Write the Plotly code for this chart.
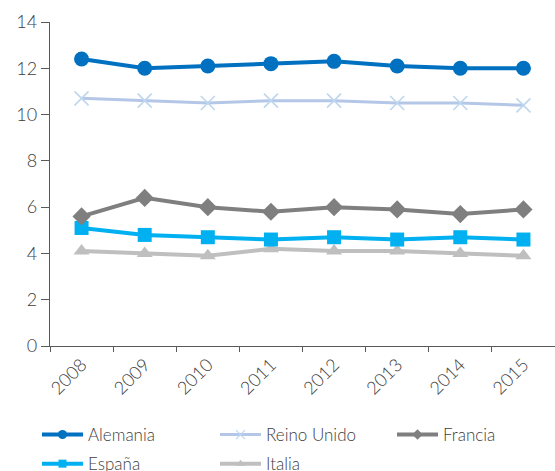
import plotly.graph_objects as go

years = ["2008", "2009", "2010", "2011", "2012", "2013", "2014", "2015"]
alemania = [12.4, 12.0, 12.1, 12.2, 12.3, 12.1, 12.0, 12.0]
reino_unido = [10.7, 10.6, 10.5, 10.6, 10.6, 10.5, 10.5, 10.4]
francia = [5.6, 6.4, 6.0, 5.8, 6.0, 5.9, 5.7, 5.9]
espana = [5.1, 4.8, 4.7, 4.6, 4.7, 4.6, 4.7, 4.6]
italia = [4.1, 4.0, 3.9, 4.2, 4.1, 4.1, 4.0, 3.9]
y_ticks = [0, 2, 4, 6, 8, 10, 12, 14]

FONT = "Lato"
WEIGHT = 300
TEXT = "#404040"
AXIS = "#595959"

series = [
    # name, values, line colour, width, symbol, marker size, marker colour, legend marker size, legend column
    ("Alemania", alemania, "#0070C0", 4, "circle", 15, "#0070C0", 9, "legend"),
    ("Reino Unido", reino_unido, "#B4C7E7", 3, "x-thin", 14, "#BDD7EE", 9, "legend2"),
    ("Francia", francia, "#7F7F7F", 4, "diamond", 14, "#7F7F7F", 8, "legend3"),
    ("España", espana, "#00B0F0", 4, "square", 14, "#00B0F0", 8, "legend"),
    ("Italia", italia, "#BFBFBF", 4, "triangle-up", 14, "#BFBFBF", 8, "legend2"),
]

fig = go.Figure()

# plotted series (drawn in reverse so the first series sits on top)
for name, vals, lc, lw, sym, ms, mc, _, _ in reversed(series):
    marker = dict(symbol=sym, size=ms, color=mc)
    if sym == "x-thin":
        marker["line"] = dict(color=mc, width=1.6)
    fig.add_trace(go.Scatter(
        x=years, y=vals, mode="lines+markers", name=name,
        line=dict(color=lc, width=lw), marker=marker,
        showlegend=False, cliponaxis=False,
    ))

# legend entries with smaller symbols, one legend box per column
for name, vals, lc, lw, sym, ms, mc, lms, leg in series:
    marker = dict(symbol=sym, size=lms, color=mc)
    if sym == "x-thin":
        marker["line"] = dict(color=mc, width=1.2)
    fig.add_trace(go.Scatter(
        x=[None], y=[None], mode="lines+markers", name=name,
        line=dict(color=lc, width=lw), marker=marker, showlegend=True,
        legend=leg, legendgroup=name,
    ))

legend_common = dict(
    orientation="v", xref="container", yref="container",
    xanchor="left", y=1 - 417 / 471, yanchor="top",
    itemwidth=41, tracegroupgap=4,
    font=dict(family=FONT, size=17, color=TEXT, weight=WEIGHT),
    traceorder="grouped", bgcolor="rgba(0,0,0,0)",
)

fig.update_layout(
    width=555, height=471,
    margin=dict(l=50, r=0, t=22, b=125, autoexpand=False),
    paper_bgcolor="white", plot_bgcolor="white",
    font=dict(family=FONT, size=17, color=TEXT, weight=WEIGHT),
    xaxis=dict(
        type="category", categoryorder="array", categoryarray=years,
        range=[-0.5, 7.5], tickson="boundaries", automargin=False,
        ticks="outside", ticklen=5, tickwidth=1.3, tickcolor=AXIS,
        showline=True, linecolor=AXIS, linewidth=1.3,
        showgrid=False, zeroline=False, tickangle=-45,
        tickfont=dict(family=FONT, size=18, color=TEXT, weight=WEIGHT),
    ),
    yaxis=dict(
        range=[0, 14], tickvals=y_ticks, automargin=False,
        ticks="outside", ticklen=8, tickwidth=1.3, tickcolor=AXIS,
        showline=True, linecolor=AXIS, linewidth=1.3,
        showgrid=False, zeroline=False,
        tickfont=dict(family=FONT, size=18, color=TEXT, weight=WEIGHT),
    ),
    legend=dict(x=37 / 555, **legend_common),
    legend2=dict(x=215 / 555, **legend_common),
    legend3=dict(x=392 / 555, **legend_common),
)

fig.write_html("out.html")
